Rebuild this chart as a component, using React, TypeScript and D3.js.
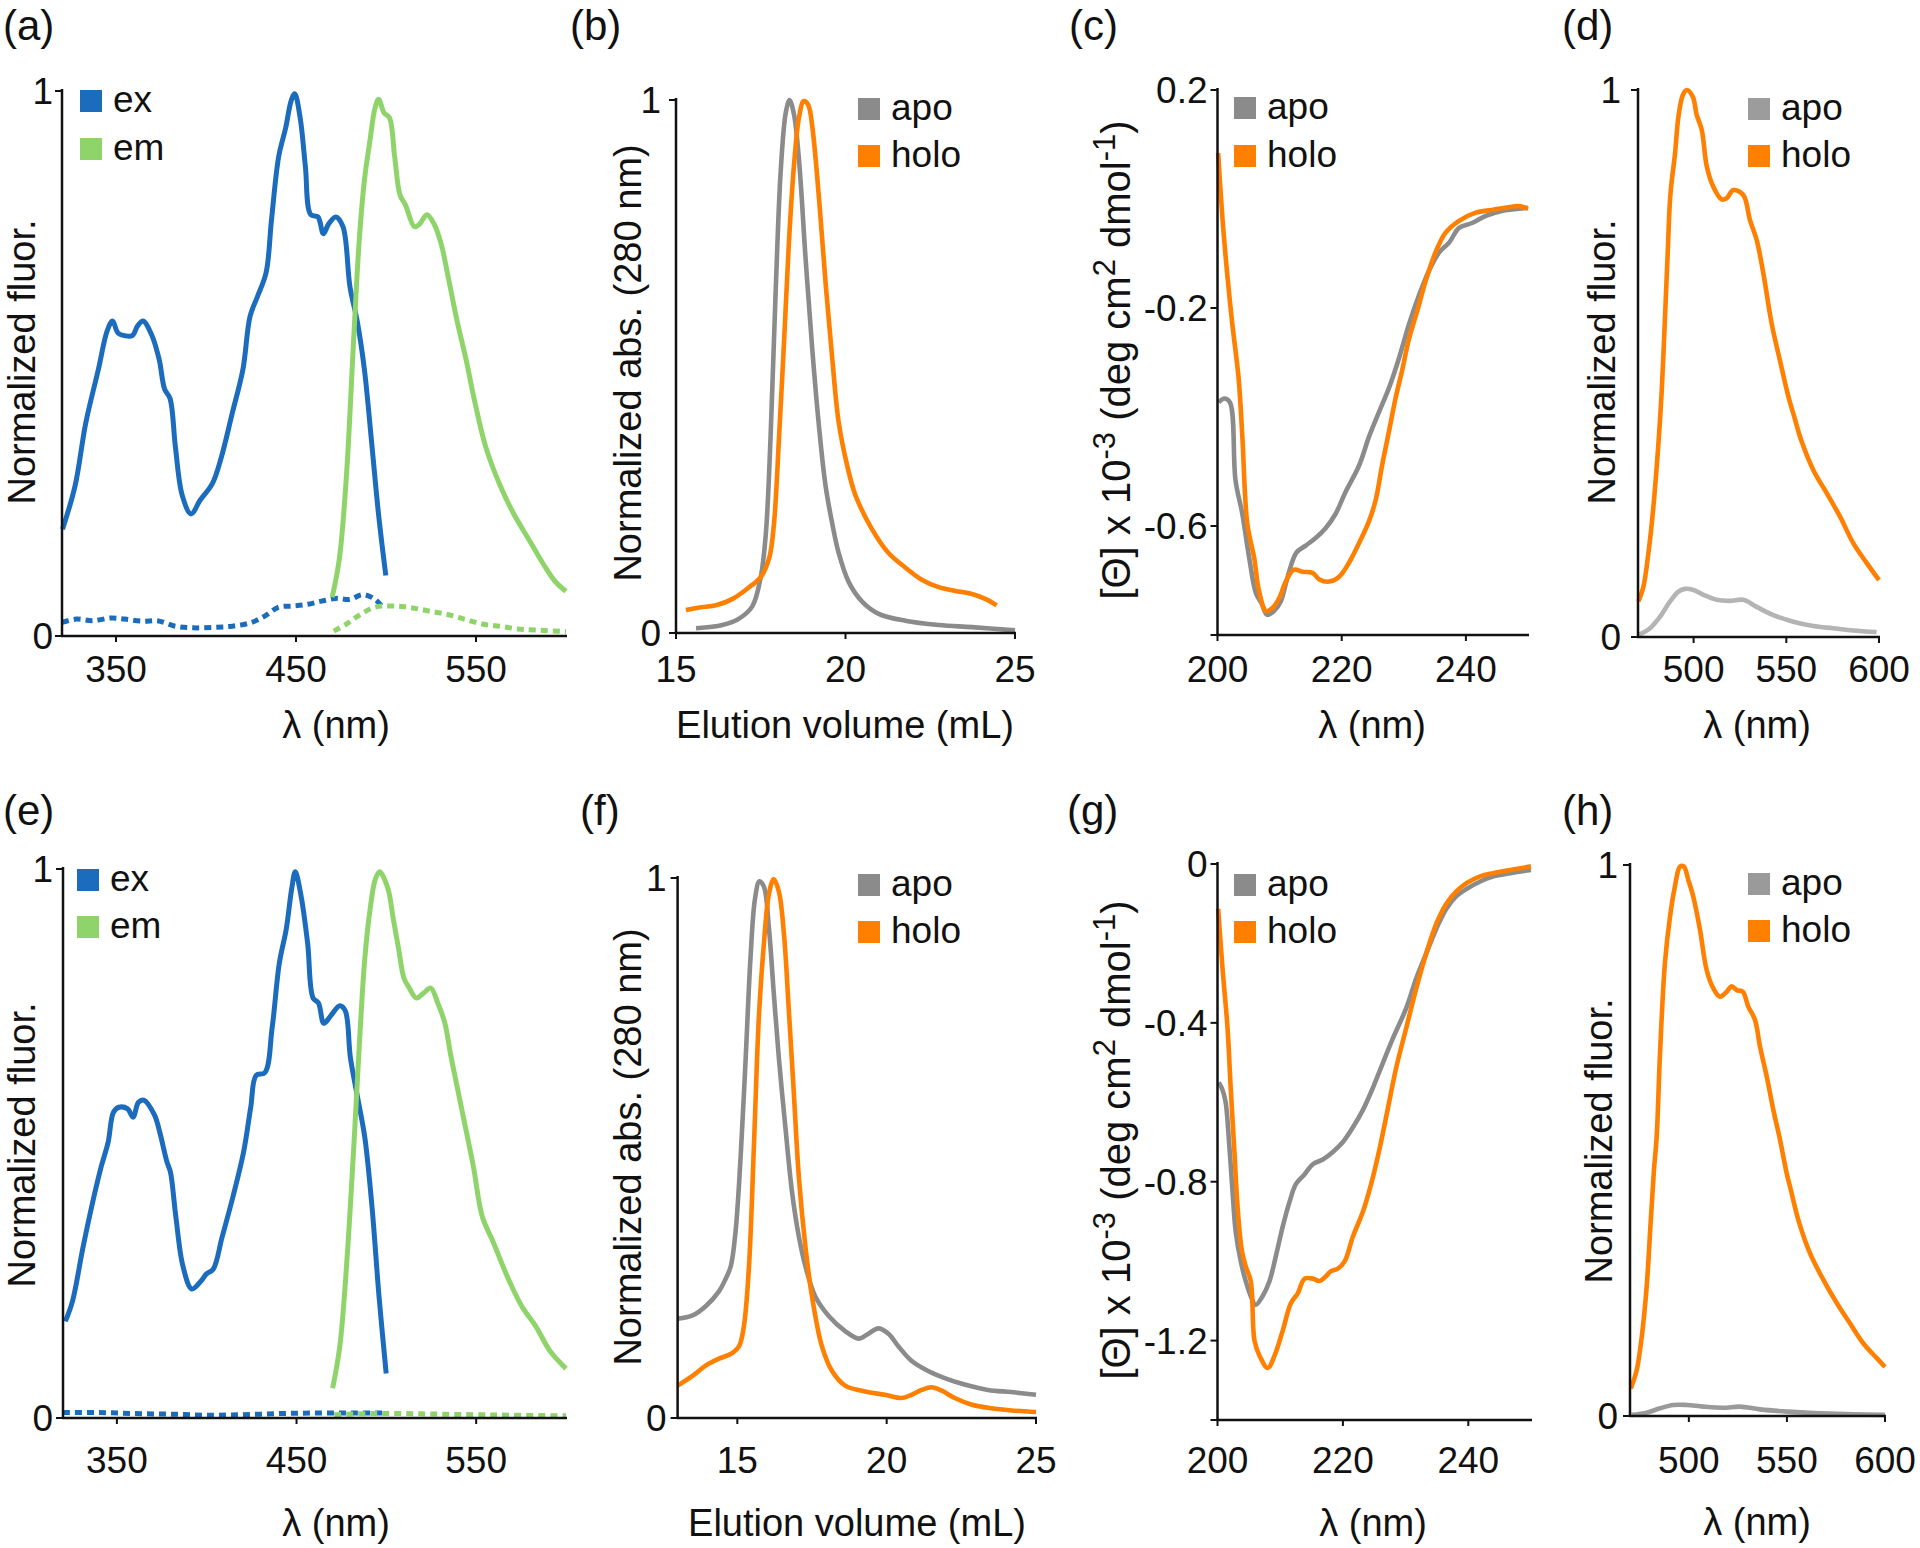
import React from 'react';
import * as d3 from 'd3';

type Pt = [number, number];

const FONT = '"Liberation Sans", Arial, Helvetica, sans-serif';

// ---------------- DATA ----------------
// (a) fluorescence, wavelength [nm] vs normalized fluorescence
const aEx: Pt[] = [[320.3,0.196],[327.3,0.276],[333.2,0.391],[340.2,0.489],[345.1,0.56],[348.1,0.578],[351.1,0.556],[355,0.551],[359,0.551],[362,0.569],[365,0.578],[370,0.551],[374,0.507],[377,0.453],[380,0.436],[383,0.347],[386.8,0.258],[391.7,0.224],[396.7,0.249],[403.6,0.28],[408.6,0.329],[414.6,0.409],[420.5,0.489],[424.5,0.587],[428.5,0.622],[433.4,0.667],[436.4,0.764],[440.4,0.88],[444.3,0.933],[447.3,0.982],[449.3,0.995],[452.3,0.951],[455.2,0.862],[458.2,0.773],[462.2,0.769],[465.2,0.738],[468.1,0.756],[472.1,0.769],[476.1,0.751],[480,0.64],[484,0.578],[488,0.489],[492,0.356],[495.9,0.222],[499.9,0.111]];
const aEm: Pt[] = [[470.1,0.071],[474.1,0.142],[478,0.293],[482,0.542],[485,0.72],[488,0.836],[491,0.907],[493.9,0.969],[495.9,0.985],[498.9,0.96],[501.9,0.951],[504.8,0.88],[507.8,0.809],[510.8,0.791],[515.8,0.751],[518.7,0.756],[522.7,0.773],[526.7,0.756],[530.6,0.72],[534.6,0.658],[539.5,0.578],[544.5,0.507],[549.5,0.427],[555.4,0.347],[563.4,0.276],[571.3,0.222],[579.2,0.178],[587.2,0.133],[594,0.1],[600,0.082]];
const aExDash: Pt[] = [[320,0.025],[328,0.031],[337,0.028],[347,0.033],[355,0.031],[365,0.027],[373,0.028],[383,0.018],[393,0.015],[404.6,0.016],[414.6,0.018],[424.5,0.024],[432.4,0.036],[440.4,0.053],[448.3,0.055],[456.2,0.058],[464.2,0.064],[472.1,0.069],[480,0.067],[487,0.076],[494,0.067],[499,0.049]];
const aEmDash: Pt[] = [[471,0.009],[478,0.022],[486,0.04],[494,0.053],[503.8,0.055],[513.8,0.052],[523.7,0.046],[533.6,0.04],[543.5,0.031],[553.4,0.022],[563.4,0.018],[573.3,0.013],[583.2,0.011],[600,0.008]];

// (b) SEC, elution volume [mL] vs normalized absorbance
const bApo: Pt[] = [[15.59,0.009],[16.37,0.015],[16.86,0.027],[17.25,0.05],[17.5,0.105],[17.65,0.186],[17.79,0.368],[17.94,0.641],[18.09,0.868],[18.24,0.977],[18.35,1.0],[18.48,0.973],[18.63,0.886],[18.82,0.705],[19.02,0.532],[19.22,0.386],[19.41,0.277],[19.61,0.205],[19.8,0.15],[20.1,0.095],[20.49,0.059],[20.98,0.036],[21.76,0.023],[22.75,0.015],[23.73,0.011],[25,0.005]];
const bHolo: Pt[] = [[15.29,0.043],[15.69,0.048],[16.18,0.052],[16.67,0.064],[17.16,0.086],[17.5,0.105],[17.75,0.141],[17.89,0.205],[18.04,0.368],[18.19,0.55],[18.33,0.732],[18.48,0.877],[18.63,0.968],[18.77,0.998],[18.9,0.991],[19.02,0.95],[19.22,0.814],[19.41,0.659],[19.61,0.514],[19.8,0.395],[20.05,0.314],[20.29,0.259],[20.78,0.195],[21.27,0.15],[21.76,0.123],[22.25,0.1],[22.75,0.086],[23.24,0.079],[23.73,0.073],[24.12,0.064],[24.46,0.052]];

// (c) CD, wavelength [nm] vs [Θ] x 10^-3
const cApo: Pt[] = [[200.2,-0.373],[201.1,-0.366],[202,-0.373],[202.9,-0.516],[204,-0.578],[205.1,-0.658],[206.2,-0.724],[207.1,-0.742],[208,-0.763],[209.1,-0.756],[210.2,-0.738],[211.3,-0.693],[212.7,-0.649],[214.2,-0.636],[215.8,-0.622],[217.4,-0.604],[219,-0.578],[220.6,-0.538],[222.8,-0.489],[224.4,-0.436],[226,-0.391],[227.6,-0.347],[229.2,-0.293],[230.8,-0.231],[232.4,-0.178],[234,-0.133],[235.7,-0.098],[237.3,-0.08],[238.9,-0.053],[241,-0.044],[243.2,-0.031],[245.8,-0.022],[248.5,-0.018],[250,-0.016]];
const cHolo: Pt[] = [[200.1,0.084],[200.8,-0.036],[201.6,-0.142],[202.4,-0.231],[203.4,-0.329],[204,-0.436],[204.8,-0.596],[205.9,-0.658],[206.7,-0.72],[207.8,-0.756],[208.8,-0.751],[209.9,-0.733],[211,-0.702],[212.3,-0.68],[213.7,-0.684],[215.3,-0.686],[216.4,-0.698],[218,-0.702],[219.6,-0.693],[221.2,-0.667],[222.8,-0.631],[224.4,-0.591],[225.5,-0.551],[226.5,-0.489],[227.6,-0.427],[228.7,-0.364],[229.8,-0.311],[230.8,-0.258],[232.2,-0.204],[233.5,-0.151],[235.1,-0.098],[236.7,-0.062],[238.9,-0.04],[241.6,-0.025],[244.2,-0.02],[246.9,-0.015],[248.5,-0.013],[250,-0.018]];

// (d) emission, wavelength [nm] vs normalized fluorescence
const dApo: Pt[] = [[470.5,0.004],[476.5,0.016],[481.9,0.037],[487.3,0.065],[491.8,0.083],[495.4,0.088],[499.9,0.086],[505.3,0.077],[512.5,0.068],[519.6,0.066],[526.8,0.068],[534,0.055],[543,0.04],[553.8,0.028],[564.6,0.02],[575.3,0.016],[586.2,0.012],[598.7,0.009]];
const dHolo: Pt[] = [[470.2,0.065],[472.9,0.092],[475.6,0.153],[478.3,0.238],[480.9,0.348],[482.8,0.45],[484.5,0.58],[486,0.7],[487.5,0.81],[490,0.885],[491.8,0.951],[494.2,0.991],[496.3,1.0],[499.5,0.988],[501.7,0.954],[504.4,0.927],[507.1,0.86],[510.6,0.823],[515.1,0.8],[517.8,0.802],[521.4,0.817],[526.8,0.808],[530.4,0.762],[534,0.726],[537.6,0.665],[542.1,0.573],[546.6,0.505],[551.1,0.44],[554.5,0.4],[558,0.36],[564.6,0.305],[571.8,0.263],[579,0.22],[586.2,0.171],[593.4,0.135],[600,0.104]];

// (e) fluorescence (second construct)
const eEx: Pt[] = [[321.3,0.176],[325.3,0.213],[331.2,0.312],[337.2,0.403],[341.2,0.457],[345.1,0.502],[348.1,0.557],[351.1,0.566],[356,0.563],[359,0.548],[362,0.575],[365,0.579],[370.9,0.552],[373.9,0.52],[377.9,0.466],[379.8,0.448],[382.8,0.367],[386.8,0.276],[391.7,0.235],[396.7,0.249],[399.7,0.262],[403.6,0.271],[408.6,0.33],[414.6,0.403],[420.5,0.484],[424.5,0.566],[427.5,0.624],[432.4,0.629],[436.4,0.71],[440.4,0.828],[444.3,0.891],[447.3,0.964],[449.3,0.995],[452.3,0.955],[456.2,0.864],[459.2,0.765],[462.2,0.756],[465.2,0.719],[469.1,0.733],[474.1,0.751],[477.1,0.742],[480,0.656],[484,0.584],[488,0.511],[492,0.385],[495.9,0.222],[499.9,0.081]];
const eEm: Pt[] = [[470.1,0.054],[474.1,0.131],[478,0.285],[482,0.502],[485,0.683],[488,0.837],[491,0.928],[493.9,0.982],[496.3,0.995],[500.9,0.964],[503.8,0.91],[506.8,0.855],[509.8,0.801],[512.8,0.783],[516.7,0.765],[520.7,0.774],[524.7,0.783],[528.6,0.756],[532.6,0.719],[535.6,0.665],[539.5,0.602],[543.5,0.538],[548.5,0.457],[553.4,0.367],[559.4,0.321],[567.3,0.258],[575.3,0.204],[583.2,0.167],[591.1,0.122],[600,0.09]];
const eExDash: Pt[] = [[320,0.01],[340,0.01],[360,0.008],[380,0.007],[400,0.005],[420,0.006],[440,0.008],[460,0.009],[480,0.009],[500,0.009]];
const eEmDash: Pt[] = [[471,0.006],[490,0.008],[510,0.008],[530,0.007],[550,0.006],[570,0.005],[600,0.004]];

// (f) SEC, second construct
const fApo: Pt[] = [[13,0.184],[13.5,0.19],[13.94,0.207],[14.39,0.235],[14.61,0.258],[14.78,0.281],[14.94,0.345],[15.11,0.483],[15.28,0.667],[15.44,0.851],[15.59,0.961],[15.74,0.994],[15.89,0.984],[16.06,0.906],[16.22,0.787],[16.39,0.667],[16.61,0.538],[16.83,0.419],[17.06,0.336],[17.28,0.281],[17.61,0.225],[18.06,0.189],[18.61,0.161],[19.06,0.147],[19.39,0.156],[19.72,0.166],[20.06,0.156],[20.39,0.133],[20.83,0.106],[21.39,0.087],[21.94,0.074],[22.61,0.062],[23.39,0.052],[24.17,0.048],[25,0.043]];
const fHolo: Pt[] = [[13,0.06],[13.5,0.078],[13.94,0.097],[14.39,0.11],[14.83,0.12],[15.06,0.133],[15.22,0.17],[15.39,0.281],[15.56,0.511],[15.72,0.741],[15.89,0.879],[16.06,0.971],[16.22,0.998],[16.39,0.975],[16.56,0.897],[16.72,0.759],[16.89,0.603],[17.06,0.446],[17.28,0.317],[17.5,0.225],[17.83,0.133],[18.17,0.087],[18.61,0.06],[19.28,0.049],[19.94,0.043],[20.5,0.037],[20.83,0.043],[21.17,0.052],[21.5,0.057],[21.83,0.051],[22.28,0.037],[22.83,0.025],[23.5,0.018],[24.17,0.014],[25,0.011]];

// (g) CD, second construct
const gApo: Pt[] = [[200.2,-0.55],[200.8,-0.569],[201.3,-0.6],[201.9,-0.713],[202.4,-0.825],[202.9,-0.925],[203.7,-1.0],[204.5,-1.05],[205.3,-1.088],[206.1,-1.11],[207.2,-1.088],[208.3,-1.05],[209.3,-0.988],[210.4,-0.913],[211.5,-0.85],[212.5,-0.806],[213.9,-0.781],[215.2,-0.756],[216.8,-0.744],[218.4,-0.725],[220,-0.7],[221.6,-0.663],[223.2,-0.619],[224.8,-0.563],[226.4,-0.5],[228,-0.438],[230.1,-0.363],[231.7,-0.288],[233.3,-0.225],[234.9,-0.163],[236.5,-0.113],[238.1,-0.081],[239.7,-0.063],[241.9,-0.044],[244,-0.031],[246.7,-0.023],[250,-0.015]];
const gHolo: Pt[] = [[200.1,-0.113],[200.8,-0.263],[201.6,-0.413],[202.1,-0.563],[202.7,-0.725],[203.2,-0.863],[203.9,-0.975],[204.5,-1.013],[205.3,-1.05],[205.9,-1.2],[206.7,-1.238],[208,-1.269],[209.1,-1.238],[210.4,-1.175],[211.7,-1.106],[212.8,-1.081],[213.9,-1.044],[215.2,-1.044],[216.3,-1.05],[217.3,-1.038],[218.1,-1.025],[219.2,-1.019],[220.3,-1.0],[221.6,-0.938],[223.2,-0.875],[224.5,-0.806],[225.9,-0.713],[227.2,-0.613],[228.5,-0.513],[230.1,-0.413],[231.7,-0.313],[233.3,-0.225],[234.9,-0.15],[236.5,-0.1],[238.1,-0.069],[239.7,-0.048],[241.9,-0.031],[244,-0.023],[246.7,-0.015],[250,-0.006]];

// (h) emission, second construct
const hApo: Pt[] = [[470.8,0.002],[478.5,0.006],[485.3,0.014],[492.1,0.02],[498.9,0.02],[507.4,0.017],[517.6,0.015],[526.1,0.017],[536.3,0.012],[549.9,0.008],[566.9,0.005],[583.8,0.003],[600,0.002]];
const hHolo: Pt[] = [[470.4,0.05],[473.4,0.083],[476,0.144],[478.5,0.235],[480.6,0.356],[482.2,0.446],[483.6,0.507],[485.3,0.658],[487.8,0.822],[490.4,0.906],[492.9,0.961],[495.5,0.997],[497.5,0.997],[499.7,0.973],[502.3,0.942],[505.7,0.882],[509.1,0.809],[512.5,0.776],[515.9,0.761],[519.3,0.77],[521.8,0.78],[524.4,0.773],[527.5,0.77],[530.3,0.743],[533.7,0.719],[536.3,0.67],[539.7,0.616],[543.1,0.555],[546.5,0.501],[549.9,0.44],[551.6,0.416],[555.8,0.356],[561.8,0.295],[568.6,0.247],[575.4,0.205],[582.2,0.168],[588.9,0.132],[595.8,0.105],[600,0.089]];

// tick values
const fluorXTicks = [350, 450, 550];
const secBXTicks = [15, 20, 25];
const cdXTicks = [200, 220, 240];
const emXTicks = [500, 550, 600];
const unitYTicks = [0, 1];
const cYTicks = [0.2, -0.2, -0.6, -0.8];
const cYTickLabels = ['0.2', '-0.2', '-0.6', ''];
const gYTicks = [0, -0.4, -0.8, -1.2, -1.4];
const gYTickLabels = ['0', '-0.4', '-0.8', '-1.2', ''];
const exEmLegend = ['ex', 'em'];
const apoHoloLegend = ['apo', 'holo'];

// ---------------- STYLE ----------------
const BLUE = '#1b6cbd';
const GREEN = '#8fd46b';
const ORANGE = '#ff7f00';
const GRAY = '#8b8b8b';
const LIGHTGRAY = '#b4b4b4';

interface Series { data: Pt[]; color: string; width: number; dash?: string; }
interface Panel {
  letter: string; letterX: number; letterY: number;
  xDomain: [number, number]; xRange: [number, number];
  yDomain: [number, number]; yRange: [number, number];
  xTicks: number[]; yTicks: number[]; yTickLabels?: string[]; yGap: number;
  tickBase: number;
  xLabel: string; xLabelX: number; xLabelY: number;
  yLabel: 'fluor' | 'abs' | 'cd'; yLabelX: number; yLabelY: number;
  series: Series[];
  legend: string[]; legendColors: string[]; legendX: number; legendY: number; legendStep: number;
}

const W_FL = 5;
const W_OT = 4.6;

const panels: Panel[] = [
  {
    letter: '(a)', letterX: 3, letterY: 40,
    xDomain: [320, 600], xRange: [62, 566], yDomain: [0, 1], yRange: [636, 91],
    xTicks: fluorXTicks, yTicks: unitYTicks, yGap: 9, tickBase: 682,
    xLabel: 'λ (nm)', xLabelX: 336, xLabelY: 738,
    yLabel: 'fluor', yLabelX: 35, yLabelY: 362,
    series: [
      { data: aExDash, color: BLUE, width: W_FL, dash: '7,5' },
      { data: aEmDash, color: GREEN, width: W_FL, dash: '7,5' },
      { data: aEx, color: BLUE, width: W_FL },
      { data: aEm, color: GREEN, width: W_FL },
    ],
    legend: exEmLegend, legendColors: [BLUE, GREEN], legendX: 80, legendY: 90, legendStep: 48,
  },
  {
    letter: '(b)', letterX: 570, letterY: 40,
    xDomain: [15, 25], xRange: [676, 1015], yDomain: [0, 1], yRange: [633, 100],
    xTicks: secBXTicks, yTicks: unitYTicks, yGap: 15, tickBase: 682,
    xLabel: 'Elution volume (mL)', xLabelX: 845, xLabelY: 738,
    yLabel: 'abs', yLabelX: 641, yLabelY: 363,
    series: [
      { data: bApo, color: GRAY, width: W_OT },
      { data: bHolo, color: ORANGE, width: W_OT },
    ],
    legend: apoHoloLegend, legendColors: [GRAY, ORANGE], legendX: 858, legendY: 98, legendStep: 47,
  },
  {
    letter: '(c)', letterX: 1069, letterY: 40,
    xDomain: [200, 250], xRange: [1217.5, 1528], yDomain: [-0.8, 0.2], yRange: [635, 90],
    xTicks: cdXTicks, yTicks: cYTicks, yTickLabels: cYTickLabels, yGap: 10, tickBase: 682,
    xLabel: 'λ (nm)', xLabelX: 1372, xLabelY: 738,
    yLabel: 'cd', yLabelX: 1130, yLabelY: 360,
    series: [
      { data: cApo, color: GRAY, width: W_OT },
      { data: cHolo, color: ORANGE, width: W_OT },
    ],
    legend: apoHoloLegend, legendColors: [GRAY, ORANGE], legendX: 1234, legendY: 97, legendStep: 48,
  },
  {
    letter: '(d)', letterX: 1562, letterY: 40,
    xDomain: [470, 600], xRange: [1638, 1879], yDomain: [0, 1], yRange: [637, 90],
    xTicks: emXTicks, yTicks: unitYTicks, yGap: 17, tickBase: 682,
    xLabel: 'λ (nm)', xLabelX: 1757, xLabelY: 738,
    yLabel: 'fluor', yLabelX: 1615, yLabelY: 362,
    series: [
      { data: dApo, color: LIGHTGRAY, width: W_OT },
      { data: dHolo, color: ORANGE, width: W_OT },
    ],
    legend: apoHoloLegend, legendColors: ['#9c9c9c', ORANGE], legendX: 1748, legendY: 98, legendStep: 47,
  },
  {
    letter: '(e)', letterX: 3, letterY: 825,
    xDomain: [320, 600], xRange: [63, 566], yDomain: [0, 1], yRange: [1418, 869],
    xTicks: fluorXTicks, yTicks: unitYTicks, yGap: 10, tickBase: 1473,
    xLabel: 'λ (nm)', xLabelX: 336, xLabelY: 1536,
    yLabel: 'fluor', yLabelX: 35, yLabelY: 1145,
    series: [
      { data: eExDash, color: BLUE, width: W_FL, dash: '7,5' },
      { data: eEmDash, color: GREEN, width: W_FL, dash: '7,5' },
      { data: eEx, color: BLUE, width: W_FL },
      { data: eEm, color: GREEN, width: W_FL },
    ],
    legend: exEmLegend, legendColors: [BLUE, GREEN], legendX: 77, legendY: 869, legendStep: 47,
  },
  {
    letter: '(f)', letterX: 580, letterY: 825,
    xDomain: [13, 25], xRange: [677.6, 1036], yDomain: [0, 1], yRange: [1418, 878],
    xTicks: secBXTicks, yTicks: unitYTicks, yGap: 11, tickBase: 1473,
    xLabel: 'Elution volume (mL)', xLabelX: 857, xLabelY: 1536,
    yLabel: 'abs', yLabelX: 641, yLabelY: 1147,
    series: [
      { data: fApo, color: GRAY, width: W_OT },
      { data: fHolo, color: ORANGE, width: W_OT },
    ],
    legend: apoHoloLegend, legendColors: [GRAY, ORANGE], legendX: 858, legendY: 874, legendStep: 47,
  },
  {
    letter: '(g)', letterX: 1067, letterY: 825,
    xDomain: [200, 250], xRange: [1217.5, 1531], yDomain: [-1.4, 0], yRange: [1420, 864],
    xTicks: cdXTicks, yTicks: gYTicks, yTickLabels: gYTickLabels, yGap: 10, tickBase: 1473,
    xLabel: 'λ (nm)', xLabelX: 1373, xLabelY: 1536,
    yLabel: 'cd', yLabelX: 1130, yLabelY: 1140,
    series: [
      { data: gApo, color: GRAY, width: W_OT },
      { data: gHolo, color: ORANGE, width: W_OT },
    ],
    legend: apoHoloLegend, legendColors: [GRAY, ORANGE], legendX: 1234, legendY: 874, legendStep: 47,
  },
  {
    letter: '(h)', letterX: 1562, letterY: 825,
    xDomain: [470, 600], xRange: [1630, 1885], yDomain: [0, 1], yRange: [1416, 865],
    xTicks: emXTicks, yTicks: unitYTicks, yGap: 12, tickBase: 1473,
    xLabel: 'λ (nm)', xLabelX: 1757, xLabelY: 1535,
    yLabel: 'fluor', yLabelX: 1612, yLabelY: 1141,
    series: [
      { data: hApo, color: '#9a9a9a', width: W_OT },
      { data: hHolo, color: ORANGE, width: W_OT },
    ],
    legend: apoHoloLegend, legendColors: ['#9a9a9a', ORANGE], legendX: 1748, legendY: 873, legendStep: 47,
  },
];

const TICK_FS = 37;
const TITLE_FS = 38;

function YLabel({ kind, x, y }: { kind: Panel['yLabel']; x: number; y: number }) {
  const common = {
    transform: `translate(${x},${y}) rotate(-90)`,
    textAnchor: 'middle' as const,
    fontSize: TITLE_FS,
    fontFamily: FONT,
    fill: '#111',
  };
  if (kind === 'fluor') return <text {...common}>Normalized fluor.</text>;
  if (kind === 'abs') return <text {...common}>Normalized abs. (280 nm)</text>;
  return (
    <text {...common} fontSize={40}>
      <tspan>[Θ] x 10</tspan>
      <tspan dy={-15} fontSize={31}>-3</tspan>
      <tspan dy={15}> (deg cm</tspan>
      <tspan dy={-15} fontSize={31}>2</tspan>
      <tspan dy={15}> dmol</tspan>
      <tspan dy={-15} fontSize={31}>-1</tspan>
      <tspan dy={15}>)</tspan>
    </text>
  );
}

function PanelView({ p }: { p: Panel }) {
  const x = d3.scaleLinear().domain(p.xDomain).range(p.xRange);
  const y = d3.scaleLinear().domain(p.yDomain).range(p.yRange);
  const line = d3
    .line<Pt>()
    .x((d) => x(d[0]))
    .y((d) => y(d[1]))
    .curve(d3.curveCatmullRom.alpha(0.5));
  const x0 = p.xRange[0];
  const x1 = p.xRange[1];
  const yb = p.yRange[0];
  const yt = p.yRange[1];
  const fmt = (v: number) => String(v);
  return (
    <g>
      <text x={p.letterX} y={p.letterY} fontSize={42} fontFamily={FONT} fill="#111">
        {p.letter}
      </text>
      {p.series.map((s, i) => (
        <path
          key={i}
          d={line(s.data) || ''}
          fill="none"
          stroke={s.color}
          strokeWidth={s.width}
          strokeDasharray={s.dash}
          strokeLinejoin="round"
        />
      ))}
      {/* axes */}
      <line x1={x0} x2={x0} y1={yt - 2} y2={yb} stroke="#111" strokeWidth={2.5} />
      <line x1={x0 - 1} x2={x1 + 1} y1={yb} y2={yb} stroke="#111" strokeWidth={2.5} />
      {p.xTicks.map((t) => (
        <g key={'xt' + t}>
          <line x1={x(t)} x2={x(t)} y1={yb} y2={yb + 6} stroke="#111" strokeWidth={2} />
          <text x={x(t)} y={p.tickBase} textAnchor="middle" fontSize={TICK_FS} fontFamily={FONT} fill="#111">
            {fmt(t)}
          </text>
        </g>
      ))}
      {p.yTicks.map((t, i) => (
        <g key={'yt' + t}>
          <line x1={x0 - 7} x2={x0} y1={y(t)} y2={y(t)} stroke="#111" strokeWidth={2} />
          <text
            x={x0 - p.yGap}
            y={y(t) + 13}
            textAnchor="end"
            fontSize={TICK_FS}
            fontFamily={FONT}
            fill="#111"
          >
            {p.yTickLabels ? p.yTickLabels[i] : fmt(t)}
          </text>
        </g>
      ))}
      <text x={p.xLabelX} y={p.xLabelY} textAnchor="middle" fontSize={TITLE_FS} fontFamily={FONT} fill="#111">
        {p.xLabel}
      </text>
      <YLabel kind={p.yLabel} x={p.yLabelX} y={p.yLabelY} />
      {p.legend.map((l, i) => (
        <g key={'lg' + l}>
          <rect x={p.legendX} y={p.legendY + i * p.legendStep} width={22} height={22} fill={p.legendColors[i]} />
          <text
            x={p.legendX + 33}
            y={p.legendY + i * p.legendStep + 22}
            fontSize={TICK_FS}
            fontFamily={FONT}
            fill="#111"
          >
            {l}
          </text>
        </g>
      ))}
    </g>
  );
}

export default function App() {
  return (
    <div style={{ position: 'absolute', left: 0, top: 0, width: 1920, height: 1548, background: '#fff' }}>
      <svg width={1920} height={1548} viewBox="0 0 1920 1548" style={{ display: 'block' }}>
        <rect x={0} y={0} width={1920} height={1548} fill="#fff" />
        {panels.map((p) => (
          <PanelView key={p.letter} p={p} />
        ))}
      </svg>
    </div>
  );
}
